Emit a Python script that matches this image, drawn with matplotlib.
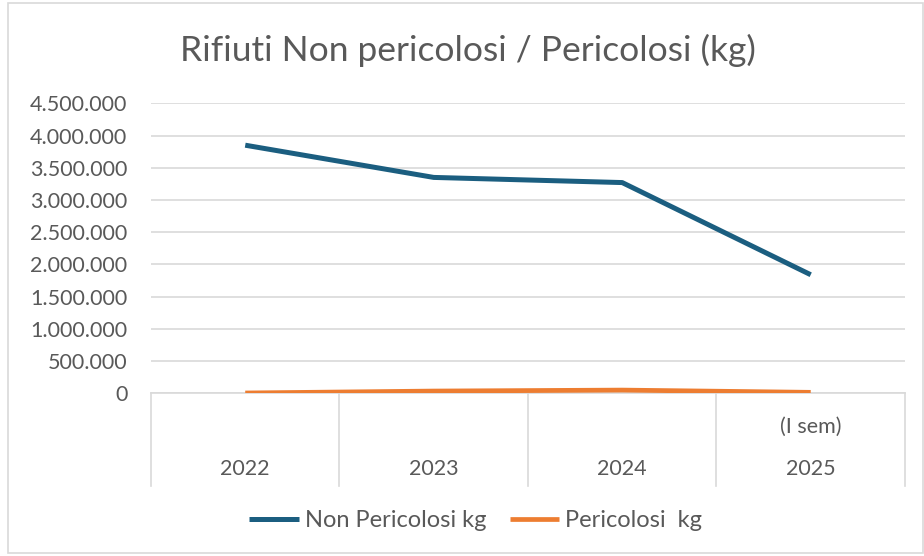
import matplotlib
matplotlib.use("Agg")
import matplotlib.pyplot as plt
from matplotlib.ticker import FuncFormatter, MultipleLocator
from matplotlib.patches import Rectangle

# dati
anni = ["2022", "2023", "2024", "(I sem)\n2025"]
non_pericolosi = [3850000, 3350000, 3270000, 1840000]
pericolosi = [5000, 35000, 50000, 15000]

blu = "#1b5e80"
arancio = "#ed7d31"
grigio_testo = "#595959"
grigio_griglia = "#d9d9d9"

plt.rcParams["font.family"] = ["Lato", "DejaVu Sans"]

fig = plt.figure(figsize=(9.24, 5.56), dpi=100)
ax = fig.add_axes([0.1634, 0.2926, 0.816, 0.5216])

x = list(range(len(anni)))
ax.plot(x, non_pericolosi, color=blu, lw=3.6, label="Non Pericolosi kg",
        solid_capstyle="butt", zorder=3)
ax.plot(x, pericolosi, color=arancio, lw=3.4, label="Pericolosi  kg",
        solid_capstyle="butt", zorder=3)

ax.set_xlim(-0.5, len(anni) - 0.5)
ax.set_ylim(0, 4500000)
ax.yaxis.set_major_locator(MultipleLocator(500000))
ax.yaxis.set_major_formatter(
    FuncFormatter(lambda v, p: f"{int(v):,}".replace(",", ".")))
ax.grid(axis="y", color=grigio_griglia, lw=1.2)
ax.set_axisbelow(True)

for s in ["top", "right", "left"]:
    ax.spines[s].set_visible(False)
ax.spines["bottom"].set_color(grigio_griglia)
ax.spines["bottom"].set_linewidth(1.2)

# linee di separazione delle categorie sotto l'asse
for b in [i - 0.5 for i in range(len(anni) + 1)]:
    ax.plot([b, b], [0, -0.32], color=grigio_griglia, lw=1.2,
            transform=ax.get_xaxis_transform(), clip_on=False)

ax.set_xticks(x)
ax.set_xticklabels(anni, va="bottom", linespacing=2.4)
ax.tick_params(axis="x", length=0, pad=62, labelsize=15.5, labelcolor=grigio_testo)
ax.tick_params(axis="y", length=0, pad=17, labelsize=15.5, labelcolor=grigio_testo)

fig.text(0.506, 0.91, "Rifiuti Non pericolosi / Pericolosi (kg)",
         ha="center", va="center", fontsize=25.5, color=grigio_testo)

leg = fig.legend(loc="center", bbox_to_anchor=(0.515, 0.064), ncol=2,
                 frameon=False, fontsize=17, handlelength=2.1,
                 columnspacing=1.0, handletextpad=0.25)
for t in leg.get_texts():
    t.set_color(grigio_testo)

# bordo del grafico
fig.patches.append(Rectangle((0.009, 0.005), 0.99, 0.99, transform=fig.transFigure,
                             fill=False, edgecolor=grigio_griglia, lw=1.2))

fig.savefig("out.png", dpi=100)
